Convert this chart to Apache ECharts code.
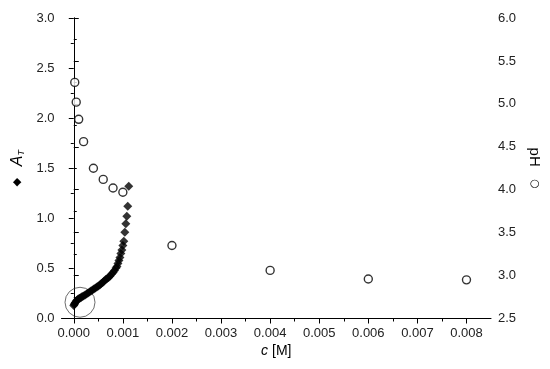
<!DOCTYPE html>
<html><head><meta charset="utf-8">
<script src="https://cdn.jsdelivr.net/npm/echarts@6/dist/echarts.min.js"></script>
<style>html,body{margin:0;padding:0;background:#fff}#c{width:550px;height:369px}</style>
</head><body><div id="c"></div>
<script>
// pH series (open circles): [c (M), pH]
const phC = [0.00002, 0.00005, 0.0001, 0.0002, 0.0004, 0.0006, 0.0008, 0.001, 0.002, 0.004, 0.006, 0.008];
const phV = [5.25, 5.02, 4.82, 4.56, 4.25, 4.12, 4.02, 3.97, 3.35, 3.06, 2.96, 2.95];
// A_T series (filled diamonds): [c (M), A_T]
const atC = [0.00000,0.00001,0.00002,0.00003,0.00005,0.00007,0.00009,0.00011,0.00013,0.00015,0.00017,0.00020,0.00023,0.00026,0.00029,0.00032,0.00035,0.00038,0.00041,0.00044,0.00047,0.00050,0.00053,0.00056,0.00059,0.00062,0.00065,0.00068,0.00071,0.00074,0.00077,0.00080,0.00083,0.00086,0.00088,0.00090,0.00092,0.00094,0.00096,0.00098,0.00100,0.00102,0.00104,0.00106,0.00108,0.00110,0.00112];
const atV = [0.13,0.14,0.15,0.16,0.175,0.185,0.195,0.20,0.205,0.21,0.22,0.225,0.235,0.245,0.255,0.265,0.275,0.285,0.295,0.305,0.315,0.325,0.335,0.35,0.36,0.375,0.39,0.40,0.41,0.425,0.445,0.46,0.48,0.505,0.52,0.55,0.58,0.61,0.65,0.685,0.73,0.77,0.86,0.945,1.02,1.12,1.32];
// highlight circle around the low-concentration region
const ringPoint = [[0.000127, 0.162]];
// tick values
const xMajor = [0,0.001,0.002,0.003,0.004,0.005,0.006,0.007,0.008];
const xMinor = [0.0005,0.0015,0.0025,0.0035,0.0045,0.0055,0.0065,0.0075];

const font = 'Liberation Sans, Arial, sans-serif';
const chart = echarts.init(document.getElementById('c'));
const axisLine = {show:true, lineStyle:{color:'#000', width:1}};
chart.setOption({
  animation:false,
  grid:{left:61.5, right:57, top:18, bottom:50.5},
  xAxis:[{
    type:'value', min:-0.00025, max:0.0085,
    axisLine: axisLine, splitLine:{show:false},
    axisTick:{show:true, inside:false, length:5, customValues:xMajor, lineStyle:{color:'#000'}},
    axisLabel:{customValues:xMajor, color:'#222', fontFamily:font, fontSize:13, margin:8,
      formatter:v=>v.toFixed(3)},
    name:'{i|c} [M]', nameLocation:'middle', nameGap:26,
    nameTextStyle:{color:'#000', fontFamily:font, fontSize:14,
      rich:{i:{fontStyle:'italic', fontFamily:font, fontSize:14, color:'#000'}}}
  },{
    type:'value', min:-0.00025, max:0.0085, position:'bottom',
    axisLine:{show:false}, splitLine:{show:false},
    axisTick:{show:true, length:3, customValues:xMinor, lineStyle:{color:'#000'}},
    axisLabel:{show:false}
  }],
  yAxis:[{
    type:'value', min:0, max:3, interval:0.5, position:'left',
    axisLine: axisLine, splitLine:{show:false},
    axisTick:{show:true, length:5, lineStyle:{color:'#000'}},
    minorTick:{show:true, splitNumber:2, length:3, lineStyle:{color:'#000'}},
    axisLabel:{color:'#222', fontFamily:font, fontSize:13, margin:7, formatter:v=>v.toFixed(1)},
    name:'{d|◆}   {a|A}{s|T}', nameLocation:'middle', nameRotate:90, nameGap:34,
    nameTextStyle:{color:'#000', fontFamily:font, fontSize:14,
      rich:{d:{fontSize:11, color:'#000', fontFamily:'DejaVu Sans'},
            a:{fontStyle:'italic', fontSize:16, color:'#000', fontFamily:font},
            s:{fontStyle:'italic', fontSize:9, color:'#000', fontFamily:font, padding:[7,0,0,0]}}}
  },{
    type:'value', min:2.5, max:6, interval:0.5, position:'right',
    axisLine: axisLine, splitLine:{show:false},
    axisTick:{show:true, length:5, lineStyle:{color:'#000'}},
    minorTick:{show:true, splitNumber:2, length:3, lineStyle:{color:'#000'}},
    axisLabel:{color:'#222', fontFamily:font, fontSize:13, margin:7, formatter:v=>v.toFixed(1)},
    name:'pH   {o|○}', nameLocation:'middle', nameRotate:-90, nameGap:30,
    nameTextStyle:{color:'#000', fontFamily:font, fontSize:15,
      rich:{o:{fontSize:11, color:'#000', fontFamily:'DejaVu Sans'}}}
  }],
  series:[{
    type:'scatter', xAxisIndex:0, yAxisIndex:1,
    data: phC.map((c,i)=>[c, phV[i]]),
    symbol:'circle', symbolSize:8,
    itemStyle:{color:'#fff', borderColor:'#000', borderWidth:1.4}
  },{
    type:'scatter', xAxisIndex:0, yAxisIndex:0,
    data: atC.map((c,i)=>[c, atV[i]]),
    symbol:'diamond', symbolSize:[9,9],
    itemStyle:{color:'#000'}
  },{
    type:'scatter', xAxisIndex:0, yAxisIndex:0,
    data: ringPoint, symbol:'circle', symbolSize:30, z:1,
    itemStyle:{color:'rgba(0,0,0,0)', borderColor:'#333', borderWidth:0.9}
  }]
});
</script></body></html>
